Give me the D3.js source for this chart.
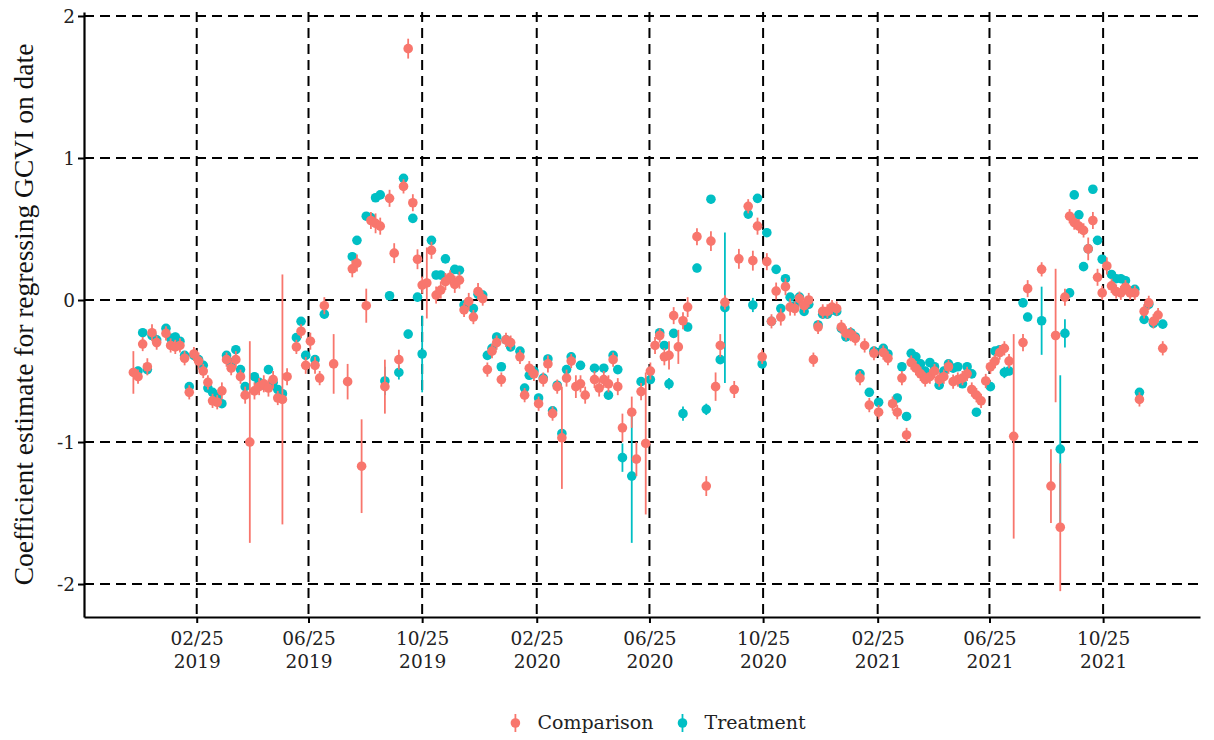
<!DOCTYPE html>
<html>
<head>
<meta charset="utf-8">
<script src="https://cdn.jsdelivr.net/npm/d3@7"></script>
<style>
  body { margin: 0; background: #fff; }
  svg { display: block; }
  .tick-label { font-family: "DejaVu Serif", serif; font-size: 18.5px; fill: #222; }
  .legend-label { font-family: "DejaVu Serif", serif; font-size: 19px; fill: #222; }
  .y-title { font-family: "Liberation Serif", serif; font-size: 27.5px; fill: #111; }
</style>
</head>
<body>
<svg id="chart" width="1214" height="740"></svg>
<script>
// Per-date regression coefficients: [date, estimate, half-width of interval]
const comparison = [
  ["2018-12-19",-0.51,0.15],["2018-12-24",-0.54,0.05],["2018-12-29",-0.31,0.05],["2019-01-03",-0.47,0.06],
  ["2019-01-08",-0.23,0.06],["2019-01-13",-0.30,0.05],["2019-01-23",-0.235,0.05],["2019-01-28",-0.32,0.05],
  ["2019-02-02",-0.33,0.05],["2019-02-07",-0.32,0.05],["2019-02-12",-0.41,0.05],["2019-02-17",-0.65,0.05],
  ["2019-02-22",-0.38,0.05],["2019-02-27",-0.43,0.06],["2019-03-04",-0.50,0.05],["2019-03-09",-0.58,0.05],
  ["2019-03-14",-0.71,0.05],["2019-03-19",-0.72,0.05],["2019-03-24",-0.64,0.06],["2019-03-29",-0.42,0.05],
  ["2019-04-03",-0.48,0.05],["2019-04-08",-0.42,0.06],["2019-04-13",-0.54,0.05],["2019-04-18",-0.67,0.06],
  ["2019-04-23",-1.00,0.71],["2019-04-28",-0.64,0.06],["2019-05-03",-0.61,0.06],["2019-05-08",-0.59,0.06],
  ["2019-05-13",-0.62,0.06],["2019-05-18",-0.56,0.06],["2019-05-23",-0.69,0.05],["2019-05-28",-0.70,0.88],
  ["2019-06-02",-0.54,0.06],["2019-06-12",-0.33,0.05],["2019-06-17",-0.22,0.05],["2019-06-22",-0.46,0.06],
  ["2019-06-27",-0.29,0.06],["2019-07-02",-0.46,0.06],["2019-07-07",-0.55,0.05],["2019-07-12",-0.04,0.06],
  ["2019-07-22",-0.45,0.21],["2019-08-06",-0.575,0.125],["2019-08-11",0.22,0.06],["2019-08-16",0.26,0.06],
  ["2019-08-21",-1.17,0.33],["2019-08-26",-0.04,0.12],["2019-08-31",0.56,0.06],["2019-09-05",0.54,0.07],
  ["2019-09-10",0.52,0.06],["2019-09-15",-0.61,0.19],["2019-09-20",0.716,0.06],["2019-09-25",0.33,0.07],
  ["2019-09-30",-0.42,0.07],["2019-10-05",0.80,0.05],["2019-10-10",1.77,0.07],["2019-10-15",0.685,0.06],
  ["2019-10-20",0.287,0.07],["2019-10-25",0.105,0.06],["2019-10-30",0.12,0.25],["2019-11-04",0.35,0.06],
  ["2019-11-09",0.035,0.06],["2019-11-14",0.07,0.06],["2019-11-19",0.13,0.06],["2019-11-24",0.16,0.05],
  ["2019-11-29",0.11,0.06],["2019-12-04",0.14,0.06],["2019-12-09",-0.07,0.05],["2019-12-14",-0.01,0.06],
  ["2019-12-19",-0.12,0.05],["2019-12-24",0.06,0.06],["2019-12-29",0.01,0.05],["2020-01-03",-0.49,0.05],
  ["2020-01-08",-0.36,0.05],["2020-01-13",-0.30,0.05],["2020-01-18",-0.56,0.05],["2020-01-23",-0.28,0.05],
  ["2020-01-28",-0.30,0.05],["2020-02-07",-0.40,0.05],["2020-02-12",-0.67,0.05],["2020-02-17",-0.48,0.05],
  ["2020-02-22",-0.52,0.05],["2020-02-27",-0.73,0.05],["2020-03-03",-0.56,0.05],["2020-03-08",-0.45,0.06],
  ["2020-03-13",-0.80,0.05],["2020-03-18",-0.61,0.05],["2020-03-23",-0.97,0.36],["2020-03-28",-0.55,0.06],
  ["2020-04-02",-0.43,0.05],["2020-04-07",-0.61,0.08],["2020-04-12",-0.59,0.06],["2020-04-17",-0.67,0.06],
  ["2020-04-27",-0.56,0.06],["2020-05-02",-0.62,0.06],["2020-05-07",-0.56,0.06],["2020-05-12",-0.59,0.06],
  ["2020-05-17",-0.42,0.05],["2020-05-22",-0.61,0.06],["2020-05-27",-0.90,0.10],["2020-06-06",-0.79,0.11],
  ["2020-06-11",-1.12,0.12],["2020-06-16",-0.645,0.06],["2020-06-21",-1.01,0.50],["2020-06-26",-0.50,0.06],
  ["2020-07-01",-0.32,0.06],["2020-07-06",-0.25,0.05],["2020-07-11",-0.40,0.06],["2020-07-16",-0.39,0.10],
  ["2020-07-21",-0.11,0.06],["2020-07-26",-0.33,0.12],["2020-07-31",-0.146,0.06],["2020-08-05",-0.05,0.07],
  ["2020-08-15",0.446,0.06],["2020-08-25",-1.31,0.07],["2020-08-30",0.415,0.07],["2020-09-04",-0.61,0.10],
  ["2020-09-09",-0.32,0.08],["2020-09-14",-0.016,0.05],["2020-09-24",-0.63,0.06],["2020-09-29",0.29,0.07],
  ["2020-10-09",0.66,0.05],["2020-10-14",0.277,0.07],["2020-10-19",0.52,0.06],["2020-10-24",-0.40,0.05],
  ["2020-10-29",0.27,0.06],["2020-11-03",-0.15,0.05],["2020-11-08",0.063,0.06],["2020-11-13",-0.12,0.06],
  ["2020-11-18",0.094,0.06],["2020-11-23",-0.05,0.06],["2020-11-28",-0.06,0.05],["2020-12-03",0.01,0.05],
  ["2020-12-08",-0.04,0.05],["2020-12-13",0.00,0.05],["2020-12-18",-0.42,0.05],["2020-12-23",-0.19,0.05],
  ["2020-12-28",-0.08,0.05],["2021-01-02",-0.08,0.05],["2021-01-07",-0.05,0.05],["2021-01-12",-0.06,0.05],
  ["2021-01-17",-0.19,0.05],["2021-01-22",-0.235,0.05],["2021-01-27",-0.24,0.05],["2021-02-01",-0.27,0.05],
  ["2021-02-06",-0.55,0.05],["2021-02-11",-0.32,0.05],["2021-02-16",-0.74,0.05],["2021-02-21",-0.375,0.05],
  ["2021-02-26",-0.79,0.05],["2021-03-03",-0.37,0.05],["2021-03-08",-0.41,0.05],["2021-03-13",-0.73,0.05],
  ["2021-03-18",-0.79,0.05],["2021-03-23",-0.55,0.05],["2021-03-28",-0.95,0.05],["2021-04-02",-0.44,0.05],
  ["2021-04-07",-0.48,0.05],["2021-04-12",-0.52,0.05],["2021-04-17",-0.56,0.05],["2021-04-22",-0.54,0.05],
  ["2021-04-27",-0.50,0.05],["2021-05-02",-0.56,0.05],["2021-05-07",-0.54,0.05],["2021-05-12",-0.47,0.05],
  ["2021-05-17",-0.575,0.05],["2021-05-22",-0.56,0.05],["2021-05-27",-0.55,0.05],["2021-06-01",-0.52,0.05],
  ["2021-06-06",-0.63,0.05],["2021-06-11",-0.67,0.05],["2021-06-16",-0.71,0.05],["2021-06-21",-0.57,0.05],
  ["2021-06-26",-0.47,0.05],["2021-07-01",-0.43,0.05],["2021-07-06",-0.37,0.05],["2021-07-11",-0.34,0.05],
  ["2021-07-16",-0.43,0.05],["2021-07-21",-0.96,0.72],["2021-07-31",-0.30,0.06],["2021-08-05",0.08,0.06],
  ["2021-08-20",0.216,0.05],["2021-08-30",-1.31,0.26],["2021-09-04",-0.25,0.47],["2021-09-09",-1.60,0.45],
  ["2021-09-14",0.02,0.06],["2021-09-19",0.59,0.05],["2021-09-24",0.545,0.05],["2021-09-29",0.52,0.05],
  ["2021-10-04",0.49,0.05],["2021-10-09",0.36,0.08],["2021-10-14",0.56,0.06],["2021-10-19",0.16,0.06],
  ["2021-10-24",0.05,0.05],["2021-10-29",0.24,0.06],["2021-11-03",0.10,0.05],["2021-11-08",0.06,0.05],
  ["2021-11-13",0.05,0.05],["2021-11-18",0.09,0.05],["2021-11-23",0.05,0.05],["2021-11-28",0.05,0.05],
  ["2021-12-03",-0.70,0.05],["2021-12-08",-0.08,0.05],["2021-12-13",-0.02,0.05],["2021-12-18",-0.15,0.05],
  ["2021-12-23",-0.106,0.05],["2021-12-28",-0.34,0.05]
];

const treatment = [
  ["2018-12-24",-0.50,0.03],["2018-12-29",-0.23,0.03],["2019-01-03",-0.49,0.03],["2019-01-08",-0.25,0.03],
  ["2019-01-13",-0.28,0.03],["2019-01-23",-0.20,0.03],["2019-01-28",-0.27,0.03],["2019-02-02",-0.26,0.03],
  ["2019-02-07",-0.29,0.03],["2019-02-12",-0.39,0.03],["2019-02-17",-0.61,0.03],["2019-02-22",-0.39,0.03],
  ["2019-02-27",-0.42,0.03],["2019-03-04",-0.46,0.03],["2019-03-09",-0.62,0.03],["2019-03-14",-0.65,0.03],
  ["2019-03-19",-0.68,0.03],["2019-03-24",-0.73,0.03],["2019-03-29",-0.39,0.03],["2019-04-03",-0.44,0.03],
  ["2019-04-08",-0.35,0.03],["2019-04-13",-0.49,0.03],["2019-04-18",-0.61,0.03],["2019-04-28",-0.54,0.03],
  ["2019-05-03",-0.58,0.03],["2019-05-08",-0.60,0.03],["2019-05-13",-0.49,0.03],["2019-05-18",-0.58,0.03],
  ["2019-05-23",-0.63,0.03],["2019-05-28",-0.66,0.03],["2019-06-12",-0.265,0.03],["2019-06-17",-0.15,0.03],
  ["2019-06-22",-0.39,0.03],["2019-07-02",-0.42,0.03],["2019-07-12",-0.10,0.03],["2019-08-11",0.305,0.03],
  ["2019-08-16",0.42,0.03],["2019-08-26",0.59,0.03],["2019-08-31",0.58,0.03],["2019-09-05",0.72,0.03],
  ["2019-09-10",0.74,0.03],["2019-09-15",-0.57,0.10],["2019-09-20",0.03,0.03],["2019-09-30",-0.51,0.05],
  ["2019-10-05",0.857,0.03],["2019-10-10",-0.24,0.03],["2019-10-15",0.575,0.03],["2019-10-20",0.02,0.03],
  ["2019-10-25",-0.38,0.27],["2019-11-04",0.42,0.03],["2019-11-09",0.176,0.03],["2019-11-14",0.176,0.03],
  ["2019-11-19",0.29,0.03],["2019-11-29",0.216,0.03],["2019-12-04",0.21,0.03],["2019-12-09",-0.035,0.03],
  ["2019-12-19",-0.06,0.03],["2019-12-24",0.04,0.03],["2019-12-29",0.035,0.03],["2020-01-03",-0.39,0.03],
  ["2020-01-08",-0.34,0.03],["2020-01-13",-0.26,0.03],["2020-01-18",-0.47,0.03],["2020-01-23",-0.28,0.03],
  ["2020-01-28",-0.33,0.03],["2020-02-07",-0.36,0.03],["2020-02-12",-0.62,0.03],["2020-02-17",-0.53,0.03],
  ["2020-02-22",-0.50,0.03],["2020-02-27",-0.69,0.03],["2020-03-03",-0.55,0.03],["2020-03-08",-0.415,0.03],
  ["2020-03-13",-0.78,0.03],["2020-03-18",-0.60,0.03],["2020-03-23",-0.94,0.03],["2020-03-28",-0.49,0.03],
  ["2020-04-02",-0.40,0.03],["2020-04-12",-0.46,0.03],["2020-04-27",-0.48,0.03],["2020-05-07",-0.48,0.03],
  ["2020-05-12",-0.67,0.03],["2020-05-17",-0.39,0.03],["2020-05-22",-0.49,0.03],["2020-05-27",-1.11,0.10],
  ["2020-06-06",-1.24,0.47],["2020-06-16",-0.575,0.03],["2020-06-26",-0.56,0.03],["2020-07-06",-0.23,0.03],
  ["2020-07-11",-0.32,0.03],["2020-07-16",-0.59,0.04],["2020-07-21",-0.235,0.03],["2020-07-31",-0.80,0.05],
  ["2020-08-05",-0.19,0.03],["2020-08-15",0.225,0.03],["2020-08-25",-0.77,0.04],["2020-08-30",0.71,0.03],
  ["2020-09-09",-0.42,0.03],["2020-09-14",-0.054,0.53],["2020-10-09",0.605,0.03],["2020-10-14",-0.035,0.05],
  ["2020-10-19",0.716,0.03],["2020-10-24",-0.45,0.03],["2020-10-29",0.474,0.03],["2020-11-03",-0.15,0.03],
  ["2020-11-08",0.216,0.03],["2020-11-13",-0.06,0.03],["2020-11-18",0.15,0.03],["2020-11-23",0.02,0.03],
  ["2020-11-28",-0.04,0.03],["2020-12-03",0.02,0.03],["2020-12-08",-0.08,0.03],["2020-12-13",-0.03,0.03],
  ["2020-12-23",-0.176,0.03],["2020-12-28",-0.10,0.03],["2021-01-02",-0.10,0.03],["2021-01-07",-0.07,0.03],
  ["2021-01-12",-0.08,0.03],["2021-01-17",-0.20,0.03],["2021-01-22",-0.26,0.03],["2021-01-27",-0.23,0.03],
  ["2021-02-01",-0.26,0.03],["2021-02-06",-0.52,0.03],["2021-02-16",-0.65,0.03],["2021-02-21",-0.36,0.03],
  ["2021-02-26",-0.72,0.03],["2021-03-03",-0.34,0.03],["2021-03-08",-0.38,0.03],["2021-03-18",-0.69,0.03],
  ["2021-03-23",-0.47,0.03],["2021-03-28",-0.82,0.03],["2021-04-02",-0.375,0.03],["2021-04-07",-0.40,0.03],
  ["2021-04-12",-0.45,0.03],["2021-04-17",-0.50,0.03],["2021-04-22",-0.44,0.03],["2021-04-27",-0.47,0.03],
  ["2021-05-02",-0.60,0.03],["2021-05-07",-0.50,0.03],["2021-05-12",-0.45,0.03],["2021-05-17",-0.48,0.03],
  ["2021-05-22",-0.47,0.03],["2021-05-27",-0.59,0.03],["2021-06-01",-0.47,0.03],["2021-06-06",-0.52,0.03],
  ["2021-06-11",-0.79,0.03],["2021-06-26",-0.61,0.03],["2021-07-01",-0.36,0.03],["2021-07-06",-0.35,0.03],
  ["2021-07-11",-0.51,0.04],["2021-07-16",-0.50,0.03],["2021-07-31",-0.02,0.03],["2021-08-05",-0.12,0.03],
  ["2021-08-20",-0.146,0.24],["2021-09-09",-1.05,0.52],["2021-09-14",-0.235,0.10],["2021-09-19",0.05,0.03],
  ["2021-09-24",0.74,0.03],["2021-09-29",0.60,0.03],["2021-10-04",0.235,0.03],["2021-10-09",0.36,0.03],
  ["2021-10-14",0.78,0.03],["2021-10-19",0.42,0.03],["2021-10-24",0.287,0.03],["2021-11-03",0.18,0.03],
  ["2021-11-08",0.15,0.03],["2021-11-13",0.15,0.03],["2021-11-18",0.136,0.03],["2021-11-28",0.075,0.03],
  ["2021-12-03",-0.65,0.03],["2021-12-08",-0.136,0.03],["2021-12-13",-0.03,0.03],["2021-12-18",-0.165,0.03],
  ["2021-12-28",-0.17,0.03]
];

const seriesNames = ["Comparison", "Treatment"];
const seriesColors = ["#F8766D", "#00BFC4"];
const xTickDates = ["2019-02-25","2019-06-25","2019-10-25","2020-02-25","2020-06-25",
                    "2020-10-25","2021-02-25","2021-06-25","2021-10-25"];
const yTickValues = [-2, -1, 0, 1, 2];
const xDomain = ["2018-10-27", "2022-02-06"];
const yDomain = [-2.232, 2.028];
const yTitle = "Coefficient estimate for regressing GCVI on date";

const svg = d3.select("#chart");
const panel = { left: 84, right: 1200, top: 12, bottom: 617 };
const parse = d3.timeParse("%Y-%m-%d");

const x = d3.scaleTime().domain(xDomain.map(parse)).range([panel.left, panel.right]);
const y = d3.scaleLinear().domain(yDomain).range([panel.bottom, panel.top]);

// Dashed reference grid
const grid = svg.append("g").attr("stroke", "#000").attr("stroke-width", 2)
  .attr("stroke-dasharray", "10,6").attr("fill", "none");
grid.selectAll("line.v").data(xTickDates.map(parse)).join("line")
  .attr("class", "v")
  .attr("x1", d => x(d)).attr("x2", d => x(d))
  .attr("y1", panel.top).attr("y2", panel.bottom);
grid.selectAll("line.h").data(yTickValues).join("line")
  .attr("class", "h")
  .attr("x1", panel.left).attr("x2", panel.right)
  .attr("y1", d => y(d)).attr("y2", d => y(d));

// Point ranges; treatment drawn first so comparison sits on top
const layers = [
  { data: treatment, color: seriesColors[1] },
  { data: comparison, color: seriesColors[0] }
];
layers.forEach(layer => {
  const g = svg.append("g");
  const rows = layer.data.map(([d, est, hw]) => ({ date: parse(d), est, hw }));
  g.selectAll("line").data(rows).join("line")
    .attr("x1", d => x(d.date)).attr("x2", d => x(d.date))
    .attr("y1", d => y(d.est - d.hw)).attr("y2", d => y(d.est + d.hw))
    .attr("stroke", layer.color).attr("stroke-width", 1.8);
  g.selectAll("circle").data(rows).join("circle")
    .attr("cx", d => x(d.date)).attr("cy", d => y(d.est))
    .attr("r", 4.8).attr("fill", layer.color);
});

// Axes
const yAxis = d3.axisLeft(y).tickValues(yTickValues).tickSize(6).tickSizeOuter(0)
  .tickFormat(d => String(d));
const gy = svg.append("g").attr("transform", `translate(${panel.left},0)`).call(yAxis);
gy.select(".domain").attr("stroke", "#000").attr("stroke-width", 2.2);
gy.selectAll(".tick line").attr("stroke", "#000").attr("stroke-width", 2);
gy.selectAll(".tick text").attr("class", "tick-label").attr("x", -9).attr("dy", "0.34em");

const fmtMD = d3.timeFormat("%m/%d");
const fmtY = d3.timeFormat("%Y");
const xAxis = d3.axisBottom(x).tickValues(xTickDates.map(parse)).tickSize(6).tickSizeOuter(0)
  .tickFormat(() => "");
const gx = svg.append("g").attr("transform", `translate(0,${panel.bottom})`).call(xAxis);
gx.select(".domain").attr("stroke", "#000").attr("stroke-width", 2.2);
gx.selectAll(".tick line").attr("stroke", "#000").attr("stroke-width", 2);
gx.selectAll(".tick text").remove();
gx.selectAll(".tick").each(function(d) {
  const t = d3.select(this).append("text").attr("class", "tick-label")
    .attr("text-anchor", "middle");
  t.append("tspan").attr("x", 0).attr("y", 28).text(fmtMD(d));
  t.append("tspan").attr("x", 0).attr("y", 51).text(fmtY(d));
});

// Y title
svg.append("text").attr("class", "y-title")
  .attr("transform", `translate(33,${(panel.top + panel.bottom) / 2}) rotate(-90)`)
  .attr("text-anchor", "middle")
  .text(yTitle);

// Legend
const legend = svg.append("g");
let cursor = 0;
seriesNames.forEach((name, i) => {
  const g = legend.append("g");
  g.append("line").attr("x1", 9).attr("x2", 9).attr("y1", -9).attr("y2", 9)
    .attr("stroke", seriesColors[i]).attr("stroke-width", 1.8);
  g.append("circle").attr("cx", 9).attr("cy", 0).attr("r", 4.8).attr("fill", seriesColors[i]);
  const txt = g.append("text").attr("class", "legend-label").attr("x", 31).attr("y", 6).text(name);
  const w = 31 + txt.node().getComputedTextLength();
  g.attr("transform", `translate(${cursor},0)`);
  cursor += w + 20;
});
const legendWidth = cursor - 20;
legend.attr("transform", `translate(${656 - legendWidth / 2},723)`);
</script>
</body>
</html>
